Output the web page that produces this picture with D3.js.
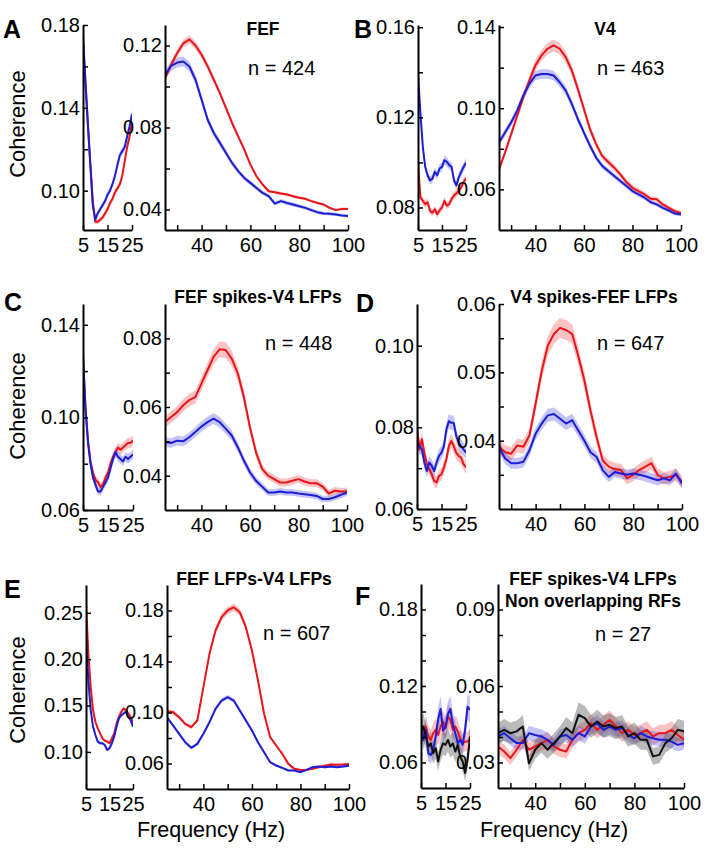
<!DOCTYPE html>
<html>
<head>
<meta charset="utf-8">
<script src="https://cdn.jsdelivr.net/npm/d3@7"></script>
<style>
	body { margin: 0; background: #fff; }
	svg text { font-family: 'Liberation Sans', Arial, sans-serif; fill: #000; }
</style>
</head>
<body>
<div id="chart"></div>
<script>
// frequency grids (Hz)
var lowFreq = [5, 6, 7, 8, 9, 10, 11, 12, 13, 14, 15, 16, 17, 18, 19, 20, 21, 22, 23, 24, 25];
var highFreq = [25, 27.5, 30, 32.5, 35, 37.5, 40, 42.5, 45, 47.5, 50, 52.5, 55, 57.5, 60, 62.5, 65, 67.5, 70, 72.5, 75, 77.5, 80, 82.5, 85, 87.5, 90, 92.5, 95, 97.5, 100];

var lowFreqTicks = [5, 15, 25];
var highFreqTicks = [30, 40, 50, 60, 70, 80, 90, 100];
var highFreqLabels = [40, 60, 80, 100];

// A - FEF
var fefLowRed = [0.172, 0.152, 0.132, 0.113, 0.095, 0.085, 0.085, 0.086, 0.087, 0.089, 0.091, 0.094, 0.096, 0.099, 0.101, 0.103, 0.107, 0.114, 0.121, 0.126, 0.133];
var fefLowBlue = [0.175, 0.153, 0.132, 0.112, 0.093, 0.086, 0.089, 0.091, 0.093, 0.095, 0.098, 0.100, 0.103, 0.107, 0.112, 0.117, 0.119, 0.121, 0.126, 0.131, 0.137];
var fefHighRed = [0.104, 0.1106, 0.1163, 0.121, 0.123, 0.120, 0.1155, 0.1098, 0.1033, 0.0968, 0.0895, 0.0822, 0.0757, 0.0692, 0.0619, 0.0562, 0.0522, 0.0489, 0.0484, 0.0478, 0.0473, 0.0465, 0.0457, 0.0452, 0.0441, 0.0432, 0.0424, 0.0408, 0.0397, 0.0403, 0.0403];
var fefHighBlue = [0.1057, 0.110, 0.1117, 0.1122, 0.1098, 0.1033, 0.0936, 0.0838, 0.0773, 0.0725, 0.0676, 0.0627, 0.0587, 0.0554, 0.053, 0.0505, 0.0481, 0.0465, 0.0429, 0.0441, 0.0432, 0.0424, 0.0416, 0.0408, 0.0397, 0.0387, 0.0381, 0.0379, 0.0376, 0.0371, 0.0368];
var fefLowTicks = [0.10, 0.12, 0.14, 0.16, 0.18];
var fefLowLabels = [0.10, 0.14, 0.18];
var fefHighTicks = [0.04, 0.06, 0.08, 0.10, 0.12];
var fefHighLabels = [0.04, 0.08, 0.12];

// B - V4
var v4LowRed = [0.100, 0.0845, 0.083, 0.0815, 0.0823, 0.0785, 0.0777, 0.0792, 0.077, 0.0788, 0.08, 0.083, 0.0808, 0.0815, 0.0838, 0.0853, 0.0863, 0.0875, 0.089, 0.0913, 0.0928];
var v4LowBlue = [0.139, 0.122, 0.107, 0.098, 0.0943, 0.092, 0.0928, 0.0958, 0.0943, 0.0973, 0.098, 0.101, 0.1003, 0.0988, 0.098, 0.092, 0.0898, 0.0935, 0.0958, 0.098, 0.0999];
var v4HighRed = [0.0699, 0.0782, 0.0872, 0.0963, 0.1054, 0.1136, 0.1211, 0.126, 0.1293, 0.131, 0.1293, 0.1252, 0.1186, 0.1095, 0.0996, 0.0897, 0.0823, 0.0765, 0.0735, 0.0707, 0.0674, 0.0636, 0.0608, 0.0592, 0.0575, 0.0554, 0.0551, 0.0526, 0.0509, 0.0493, 0.0484];
var v4HighBlue = [0.0831, 0.088, 0.093, 0.0988, 0.1062, 0.112, 0.1161, 0.1169, 0.1169, 0.1161, 0.1128, 0.1087, 0.1021, 0.0947, 0.088, 0.0815, 0.0757, 0.0716, 0.0691, 0.0666, 0.0641, 0.0617, 0.0592, 0.0575, 0.0559, 0.0537, 0.0526, 0.0509, 0.0496, 0.0481, 0.0476];
var v4LowTicks = [0.08, 0.10, 0.12, 0.14, 0.16];
var v4LowLabels = [0.08, 0.12, 0.16];
var v4HighTicks = [0.06, 0.08, 0.10, 0.12, 0.14];
var v4HighLabels = [0.06, 0.10, 0.14];

// C - FEF spikes / V4 LFPs
var fsvlLowRed = [0.127, 0.104, 0.090, 0.081, 0.076, 0.073, 0.072, 0.070, 0.071, 0.074, 0.076, 0.080, 0.083, 0.085, 0.087, 0.086, 0.087, 0.088, 0.089, 0.089, 0.090];
var fsvlLowBlue = [0.126, 0.104, 0.089, 0.080, 0.074, 0.071, 0.068, 0.068, 0.070, 0.072, 0.074, 0.078, 0.082, 0.085, 0.083, 0.082, 0.081, 0.083, 0.082, 0.083, 0.084];
var fsvlHighRed = [0.0556, 0.0571, 0.0585, 0.0605, 0.062, 0.0629, 0.0668, 0.0707, 0.0746, 0.0768, 0.0766, 0.0741, 0.0698, 0.0629, 0.0541, 0.0468, 0.042, 0.040, 0.039, 0.038, 0.038, 0.0385, 0.039, 0.0383, 0.0378, 0.0378, 0.0368, 0.0348, 0.0356, 0.0354, 0.0354];
var fsvlHighBlue = [0.0498, 0.0495, 0.0502, 0.050, 0.0512, 0.0527, 0.0543, 0.0556, 0.0566, 0.0556, 0.0537, 0.0517, 0.0483, 0.0444, 0.041, 0.0385, 0.0368, 0.0351, 0.0351, 0.0354, 0.0351, 0.0351, 0.0348, 0.0346, 0.0344, 0.0341, 0.0332, 0.0332, 0.0337, 0.0344, 0.0351];
var fsvlLowTicks = [0.06, 0.08, 0.10, 0.12, 0.14];
var fsvlLowLabels = [0.06, 0.10, 0.14];
var fsvlHighTicks = [0.04, 0.05, 0.06, 0.07, 0.08];
var fsvlHighLabels = [0.04, 0.06, 0.08];

// D - V4 spikes / FEF LFPs
var vsflLowRed = [0.0803, 0.0746, 0.0771, 0.0738, 0.071, 0.0698, 0.0685, 0.0669, 0.0665, 0.0681, 0.0685, 0.0702, 0.0722, 0.0754, 0.0767, 0.0754, 0.0738, 0.073, 0.0726, 0.071, 0.0702];
var vsflLowBlue = [0.0763, 0.0754, 0.0746, 0.0714, 0.0693, 0.0714, 0.0706, 0.0693, 0.0714, 0.073, 0.0738, 0.0754, 0.0795, 0.0815, 0.0811, 0.0811, 0.0779, 0.0763, 0.0754, 0.0746, 0.0738];
var vsflHighRed = [0.0391, 0.0383, 0.0381, 0.0393, 0.0391, 0.0408, 0.0454, 0.0502, 0.0539, 0.0556, 0.0565, 0.0562, 0.0556, 0.0524, 0.0488, 0.0444, 0.0405, 0.0371, 0.0362, 0.0358, 0.0357, 0.0345, 0.035, 0.0357, 0.0362, 0.0367, 0.035, 0.0345, 0.0347, 0.035, 0.034];
var vsflHighBlue = [0.0391, 0.0374, 0.0367, 0.0367, 0.0369, 0.0386, 0.041, 0.0425, 0.0437, 0.0439, 0.0432, 0.0425, 0.043, 0.0415, 0.04, 0.0383, 0.0376, 0.0357, 0.0347, 0.0354, 0.0352, 0.035, 0.0352, 0.035, 0.0348, 0.0345, 0.0342, 0.0345, 0.0342, 0.0352, 0.0337];
var vsflLowTicks = [0.06, 0.07, 0.08, 0.09, 0.10];
var vsflLowLabels = [0.06, 0.08, 0.10];
var vsflHighTicks = [0.035, 0.04, 0.045, 0.05, 0.055, 0.06];
var vsflHighLabels = [0.04, 0.05, 0.06];

// E - FEF LFPs / V4 LFPs
var flvlLowRed = [0.261, 0.2057, 0.170, 0.145, 0.1325, 0.1254, 0.120, 0.1146, 0.1121, 0.1111, 0.1093, 0.1146, 0.120, 0.1307, 0.1379, 0.1432, 0.1468, 0.145, 0.1414, 0.1379, 0.1307];
var flvlLowBlue = [0.2236, 0.1771, 0.145, 0.1271, 0.1182, 0.1111, 0.1093, 0.1093, 0.1075, 0.1021, 0.1039, 0.1093, 0.1164, 0.1271, 0.1361, 0.1396, 0.1414, 0.1432, 0.1379, 0.1343, 0.1271];
var flvlHighRed = [0.101, 0.1003, 0.0963, 0.0911, 0.0885, 0.0937, 0.1199, 0.146, 0.1643, 0.1748, 0.180, 0.1826, 0.1787, 0.1669, 0.1486, 0.1251, 0.099, 0.0807, 0.0741, 0.0676, 0.0597, 0.0558, 0.055, 0.055, 0.0558, 0.0571, 0.0582, 0.0592, 0.059, 0.0592, 0.0597];
var flvlHighBlue = [0.0963, 0.0898, 0.0833, 0.0767, 0.0723, 0.0754, 0.0833, 0.0924, 0.1029, 0.1094, 0.112, 0.1094, 0.1016, 0.0937, 0.0859, 0.0767, 0.0689, 0.061, 0.0584, 0.0566, 0.0545, 0.0545, 0.0532, 0.055, 0.0571, 0.0576, 0.0571, 0.0576, 0.0571, 0.0576, 0.0582];
var flvlLowTicks = [0.10, 0.15, 0.20, 0.25];
var flvlLowLabels = [0.10, 0.15, 0.20, 0.25];
var flvlHighTicks = [0.06, 0.08, 0.10, 0.12, 0.14, 0.16, 0.18];
var flvlHighLabels = [0.06, 0.10, 0.14, 0.18];

// F - FEF spikes / V4 LFPs, non overlapping RFs
var nonLowBlack = [0.083, 0.0882, 0.0803, 0.0725, 0.0751, 0.0673, 0.0712, 0.0608, 0.0699, 0.0751, 0.0738, 0.0777, 0.0725, 0.0751, 0.0686, 0.0738, 0.0647, 0.0608, 0.0518, 0.0621, 0.0803];
var nonLowRed = [0.0856, 0.0803, 0.0882, 0.0803, 0.0777, 0.083, 0.0856, 0.0817, 0.0882, 0.0921, 0.0869, 0.096, 0.0934, 0.0856, 0.0882, 0.0843, 0.079, 0.0751, 0.0764, 0.0764, 0.079];
var nonLowBlue = [0.0908, 0.0777, 0.0856, 0.0673, 0.066, 0.0699, 0.0803, 0.094, 0.102, 0.085, 0.088, 0.098, 0.102, 0.090, 0.083, 0.0751, 0.0777, 0.0738, 0.0856, 0.1038, 0.1012];
var nonHighBlack = [0.0415, 0.0428, 0.0415, 0.0422, 0.0441, 0.0297, 0.035, 0.0376, 0.035, 0.0376, 0.0402, 0.0435, 0.0415, 0.0487, 0.0474, 0.0441, 0.0461, 0.0441, 0.0448, 0.0435, 0.0441, 0.0402, 0.0415, 0.0389, 0.0389, 0.0324, 0.033, 0.0376, 0.0395, 0.0428, 0.0422];
var nonHighRed = [0.0363, 0.0343, 0.0317, 0.035, 0.0389, 0.035, 0.0363, 0.0376, 0.0389, 0.0363, 0.035, 0.0343, 0.0389, 0.0415, 0.0428, 0.0454, 0.0428, 0.0448, 0.0467, 0.0441, 0.0415, 0.0428, 0.0408, 0.0415, 0.0428, 0.0402, 0.0415, 0.0415, 0.0428, 0.0408, 0.0389];
var nonHighBlue = [0.0402, 0.0415, 0.0395, 0.0376, 0.0376, 0.0415, 0.0408, 0.0402, 0.0389, 0.0369, 0.0402, 0.0408, 0.0389, 0.0415, 0.0402, 0.0441, 0.0454, 0.0428, 0.0441, 0.0428, 0.0435, 0.0408, 0.0395, 0.0415, 0.0402, 0.0395, 0.0389, 0.0389, 0.0382, 0.0369, 0.0376];
var nonLowTicks = [0.06, 0.08, 0.10, 0.12, 0.14, 0.16, 0.18];
var nonLowLabels = [0.06, 0.12, 0.18];
var nonHighTicks = [0.03, 0.04, 0.05, 0.06, 0.07, 0.08, 0.09];
var nonHighLabels = [0.03, 0.06, 0.09];

var colors = {
	red: { line: '#e8151c', band: 'rgba(240, 70, 70, 0.33)' },
	blue: { line: '#1d1dd4', band: 'rgba(70, 70, 228, 0.32)' },
	black: { line: '#111111', band: 'rgba(90, 90, 90, 0.42)' }
};

var panels = [
	{
		letter: 'A', letterPos: [3, 38],
		box: { lx: 83, rx: 165, top: 25, bottom: 230, lw: 49, rw: 183 },
		title: ['FEF'], titleX: 263, titleY: [35], n: 'n = 424', nPos: [248, 75],
		lowY: [0.081, 0.18], lowTicks: fefLowTicks, lowLabels: fefLowLabels,
		highY: [0.03, 0.13], highTicks: fefHighTicks, highLabels: fefHighLabels,
		low: [['red', fefLowRed, 0.015], ['blue', fefLowBlue, 0.015]],
		high: [['red', fefHighRed, 0.016], ['blue', fefHighBlue, 0.022]],
		ylabel: 124
	},
	{
		letter: 'B', letterPos: [354, 38],
		box: { lx: 418, rx: 499, top: 25, bottom: 230, lw: 48, rw: 182 },
		title: ['V4'], titleX: 605, titleY: [35], n: 'n = 463', nPos: [597, 75],
		lowY: [0.07, 0.161], lowTicks: v4LowTicks, lowLabels: v4LowLabels,
		highY: [0.04, 0.141], highTicks: v4HighTicks, highLabels: v4HighLabels,
		low: [['red', v4LowRed, 0.02], ['blue', v4LowBlue, 0.02]],
		high: [['red', v4HighRed, 0.022], ['blue', v4HighBlue, 0.02]]
	},
	{
		letter: 'C', letterPos: [4, 311],
		box: { lx: 83, rx: 165, top: 304, bottom: 510, lw: 50, rw: 182 },
		title: ['FEF spikes-V4 LFPs'], titleX: 258, titleY: [303], n: 'n = 448', nPos: [265, 350],
		lowY: [0.06, 0.149], lowTicks: fsvlLowTicks, lowLabels: fsvlLowLabels,
		highY: [0.03, 0.09], highTicks: fsvlHighTicks, highLabels: fsvlHighLabels,
		low: [['red', fsvlLowRed, 0.025], ['blue', fsvlLowBlue, 0.025]],
		high: [['red', fsvlHighRed, 0.03], ['blue', fsvlHighBlue, 0.028]],
		ylabel: 406
	},
	{
		letter: 'D', letterPos: [356, 312],
		box: { lx: 417, rx: 499, top: 304, bottom: 509, lw: 49, rw: 183 },
		title: ['V4 spikes-FEF LFPs'], titleX: 594, titleY: [303], n: 'n = 647', nPos: [597, 350],
		lowY: [0.06, 0.1102], lowTicks: vsflLowTicks, lowLabels: vsflLowLabels,
		highY: [0.03, 0.06], highTicks: vsflHighTicks, highLabels: vsflHighLabels,
		low: [['red', vsflLowRed, 0.022], ['blue', vsflLowBlue, 0.022]],
		high: [['red', vsflHighRed, 0.026], ['blue', vsflHighBlue, 0.022]]
	},
	{
		letter: 'E', letterPos: [4, 598],
		box: { lx: 86, rx: 167, top: 585, bottom: 789, lw: 47, rw: 182 },
		title: ['FEF LFPs-V4 LFPs'], titleX: 254, titleY: [585], n: 'n = 607', nPos: [263, 640],
		lowY: [0.06, 0.28], lowTicks: flvlLowTicks, lowLabels: flvlLowLabels,
		highY: [0.04, 0.20], highTicks: flvlHighTicks, highLabels: flvlHighLabels,
		low: [['red', flvlLowRed, 0.015], ['blue', flvlLowBlue, 0.015]],
		high: [['red', flvlHighRed, 0.016], ['blue', flvlHighBlue, 0.016]],
		ylabel: 690, xlabel: 211
	},
	{
		letter: 'F', letterPos: [355, 605],
		box: { lx: 421, rx: 498, top: 584, bottom: 788, lw: 49, rw: 186 },
		title: ['FEF spikes-V4 LFPs', 'Non overlapping RFs'], titleX: 593, titleY: [585, 607], n: 'n = 27', nPos: [595, 641],
		lowY: [0.04, 0.20], lowTicks: nonLowTicks, lowLabels: nonLowLabels,
		highY: [0.02, 0.10], highTicks: nonHighTicks, highLabels: nonHighLabels,
		low: [['red', nonLowRed, 0.1], ['blue', nonLowBlue, 0.1], ['black', nonLowBlack, 0.12]],
		high: [['red', nonHighRed, 0.08], ['blue', nonHighBlue, 0.07], ['black', nonHighBlack, 0.1]],
		xlabel: 554
	}
];

var CoherenceFigure = {

	width: 709,
	height: 856,

	render: function() {
		this.svg = d3.select('#chart')
			.append('svg')
			.attr('width', this.width)
			.attr('height', this.height)
			.style('background', '#fff');

		this.defs = this.svg.append('defs');
		this.clipCount = 0;

		for (var i = 0; i < panels.length; i++) {
			this.drawPanel(panels[i]);
		}
	},

	drawPanel: function(p) {
		var b = p.box;

		this.drawAxes(b.lx, b.lx + b.lw, b.top, b.bottom, [5, 25], p.lowY,
			lowFreqTicks, lowFreqTicks, p.lowTicks, p.lowLabels, lowFreq, p.low);
		this.drawAxes(b.rx, b.rx + b.rw, b.top, b.bottom, [25, 100], p.highY,
			highFreqTicks, highFreqLabels, p.highTicks, p.highLabels, highFreq, p.high);

		this.svg.append('text')
			.attr('x', p.letterPos[0])
			.attr('y', p.letterPos[1])
			.attr('font-size', 25)
			.attr('font-weight', 'bold')
			.text(p.letter);

		for (var i = 0; i < p.title.length; i++) {
			this.svg.append('text')
				.attr('x', p.titleX)
				.attr('y', p.titleY[i])
				.attr('text-anchor', 'middle')
				.attr('font-size', 17.5)
				.attr('font-weight', 'bold')
				.text(p.title[i]);
		}

		this.svg.append('text')
			.attr('x', p.nPos[0])
			.attr('y', p.nPos[1])
			.attr('font-size', 20)
			.text(p.n);

		if (p.ylabel) {
			this.svg.append('text')
				.attr('transform', 'translate(25,' + p.ylabel + ') rotate(-90)')
				.attr('text-anchor', 'middle')
				.attr('font-size', 22)
				.text('Coherence');
		}

		if (p.xlabel) {
			this.svg.append('text')
				.attr('x', p.xlabel)
				.attr('y', 837)
				.attr('text-anchor', 'middle')
				.attr('font-size', 21.5)
				.text('Frequency (Hz)');
		}
	},

	drawAxes: function(x0, x1, top, bottom, xDomain, yDomain, xTicks, xLabels, yTicks, yLabels, freq, series) {
		var x = d3.scaleLinear().domain(xDomain).range([x0, x1]),
			y = d3.scaleLinear().domain(yDomain).range([bottom, top]),
			fmt = d3.format('.2f'),
			clipId = 'clip' + (this.clipCount++),
			g = this.svg.append('g');

		function has(list, d) {
			return list.some(function(v) { return Math.abs(v - d) < 1e-9; });
		}

		this.defs.append('clipPath')
			.attr('id', clipId)
			.append('rect')
			.attr('x', x0)
			.attr('y', top)
			.attr('width', x1 - x0)
			.attr('height', bottom - top);

		var plot = g.append('g').attr('clip-path', 'url(#' + clipId + ')');

		var area = d3.area()
			.x(function(d) { return x(d[0]); })
			.y0(function(d) { return y(d[1] - d[2]); })
			.y1(function(d) { return y(d[1] + d[2]); });

		var line = d3.line()
			.x(function(d) { return x(d[0]); })
			.y(function(d) { return y(d[1]); });

		var rows = series.map(function(s) {
			return {
				color: s[0],
				points: s[1].map(function(v, i) { return [freq[i], v, v * s[2]]; })
			};
		});

		plot.selectAll('path.band')
			.data(rows)
			.enter()
			.append('path')
			.attr('class', 'band')
			.attr('d', function(d) { return area(d.points); })
			.attr('fill', function(d) { return colors[d.color].band; })
			.attr('stroke', 'none');

		plot.selectAll('path.trace')
			.data(rows)
			.enter()
			.append('path')
			.attr('class', 'trace')
			.attr('d', function(d) { return line(d.points); })
			.attr('fill', 'none')
			.attr('stroke', function(d) { return colors[d.color].line; })
			.attr('stroke-width', 2)
			.attr('stroke-linejoin', 'round');

		var xAxis = g.append('g')
			.attr('transform', 'translate(0,' + bottom + ')')
			.call(d3.axisBottom(x)
				.tickValues(xTicks)
				.tickSizeInner(-5)
				.tickSizeOuter(0)
				.tickPadding(8)
				.tickFormat(function(d) { return has(xLabels, d) ? d : ''; }));

		var yAxis = g.append('g')
			.attr('transform', 'translate(' + x0 + ',0)')
			.call(d3.axisLeft(y)
				.tickValues(yTicks)
				.tickSizeInner(-5)
				.tickSizeOuter(0)
				.tickPadding(3)
				.tickFormat(function(d) { return has(yLabels, d) ? fmt(d) : ''; }));

		[xAxis, yAxis].forEach(function(a) {
			a.attr('font-size', 20).attr('font-family', null);
			a.select('.domain').attr('stroke', '#000').attr('stroke-width', 2);
			a.selectAll('.tick line').attr('stroke', '#000').attr('stroke-width', 1.5);
		});
	}
};

CoherenceFigure.render();
</script>
</body>
</html>
